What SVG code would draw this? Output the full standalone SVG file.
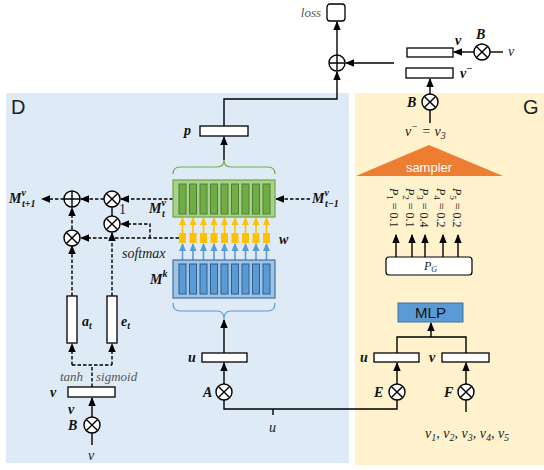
<svg xmlns="http://www.w3.org/2000/svg" width="544" height="470" viewBox="0 0 544 470">
<style>
.ln{fill:none;stroke:#000;stroke-width:1.4}
.ds{fill:none;stroke:#000;stroke-width:1.4;stroke-dasharray:3.5,2}
.box{fill:#fff;stroke:#000;stroke-width:1.3}
.op{fill:#fff;stroke:#000;stroke-width:1.4}
.mb{font-family:"Liberation Serif",serif;font-style:italic;font-weight:bold;font-size:14px;fill:#111}
.mi{font-family:"Liberation Serif",serif;font-style:italic;font-size:14px;fill:#222}
.gi{font-family:"Liberation Serif",serif;font-style:italic;font-size:13px;fill:#555}
.big{font-family:"Liberation Sans",sans-serif;font-size:20px;fill:#222}
.gb{fill:#70ad47;stroke:#4e7f30;stroke-width:1}
.bb{fill:#5b9bd5;stroke:#2e5f8e;stroke-width:1}
.ya{fill:none;stroke:#ffc000;stroke-width:1.6}
.ba{fill:none;stroke:#5b9bd5;stroke-width:1.6}
.sq{fill:#ffc000}
</style>
<defs>
<marker id="ah" markerWidth="9" markerHeight="9" refX="8" refY="4.5" orient="auto" markerUnits="userSpaceOnUse"><path d="M0,0.8 L9,4.5 L0,8.2 Z" fill="#000"/></marker>
<marker id="ay" markerWidth="8" markerHeight="8" refX="7" refY="4" orient="auto" markerUnits="userSpaceOnUse"><path d="M0,0.5 L8,4 L0,7.5 Z" fill="#ffc000"/></marker>
<marker id="ab" markerWidth="8" markerHeight="8" refX="7" refY="4" orient="auto" markerUnits="userSpaceOnUse"><path d="M0,0.5 L8,4 L0,7.5 Z" fill="#5b9bd5"/></marker>
<symbol id="otimes" viewBox="-9 -9 18 18" width="18" height="18" overflow="visible"><circle r="8" class="op"/><path d="M-5.6,-5.6 L5.6,5.6 M5.6,-5.6 L-5.6,5.6" stroke="#000" stroke-width="1.4"/></symbol>
<symbol id="oplus" viewBox="-9 -9 18 18" width="18" height="18" overflow="visible"><circle r="8" class="op"/><path d="M-8,0 L8,0 M0,-8 L0,8" stroke="#000" stroke-width="1.4"/></symbol>
</defs>

<!-- panels -->
<rect id="panelD" x="6" y="93" width="343" height="370" fill="#deebf7"/>
<rect id="panelG" x="355" y="93" width="189" height="372" fill="#fff2cc"/>
<text class="big" x="11" y="114">D</text>
<text class="big" x="523" y="114">G</text>

<g id="connectors">
<path class="ln" d="M224,126 V99 H337 V72" marker-end="url(#ah)"/>
<path class="ln" d="M337,55 V22" marker-end="url(#ah)"/>
<path class="ln" d="M394,63 H346" marker-end="url(#ah)"/>
<path class="ln" d="M474,52 H454" marker-end="url(#ah)"/>
<path class="ln" d="M490,52 H503"/>
<path class="ln" d="M430,94 V79" marker-end="url(#ah)"/>
<path class="ln" d="M430,110 V123"/>
<path class="ln" d="M224,160 V137" marker-end="url(#ah)"/>
<path class="ln" d="M224,353 V320" marker-end="url(#ah)"/>
<path class="ln" d="M224,384 V363" marker-end="url(#ah)"/>
<path class="ln" d="M224,400 V409 H397 V400"/>
<path class="ln" d="M273,409 V415"/>
<path class="ln" d="M397,384 V363" marker-end="url(#ah)"/>
<path class="ln" d="M466,384 V363" marker-end="url(#ah)"/>
<path class="ln" d="M466,400 V412"/>
<path class="ln" d="M397,353 V337 H466 V353"/>
<path class="ln" d="M431,337 V323" marker-end="url(#ah)"/>
<path class="ln" d="M396,257 V235" marker-end="url(#ah)"/>
<path class="ln" d="M412,257 V235" marker-end="url(#ah)"/>
<path class="ln" d="M425,257 V235" marker-end="url(#ah)"/>
<path class="ln" d="M443,257 V235" marker-end="url(#ah)"/>
<path class="ln" d="M458,257 V235" marker-end="url(#ah)"/>
<path class="ln" d="M92,417 V398" marker-end="url(#ah)"/>
<path class="ln" d="M92,433 V445"/>
<path class="ln" d="M112,207 V216"/>
<path class="ds" d="M173,199 H121" marker-end="url(#ah)"/>
<path class="ds" d="M104,199 H81" marker-end="url(#ah)"/>
<path class="ds" d="M64,199 H42" marker-end="url(#ah)"/>
<path class="ds" d="M310,199 H276" marker-end="url(#ah)"/>
<path class="ds" d="M179,238 H81" marker-end="url(#ah)"/>
<path class="ds" d="M150,238 V224 H121" marker-end="url(#ah)"/>
<path class="ds" d="M72,229 V208" marker-end="url(#ah)"/>
<path class="ds" d="M72,296 V246" marker-end="url(#ah)"/>
<path class="ds" d="M112,296 V233" marker-end="url(#ah)"/>
<path class="ds" d="M92,387 V365 M72,365 H112"/>
<path class="ds" d="M72,365 V344" marker-end="url(#ah)"/>
<path class="ds" d="M112,365 V344" marker-end="url(#ah)"/>
<!-- yellow arrows w -> M_t^v -->
<g>
<path class="ya" d="M182.5,233 V218" marker-end="url(#ay)"/>
<path class="ya" d="M193,233 V218" marker-end="url(#ay)"/>
<path class="ya" d="M203.5,233 V218" marker-end="url(#ay)"/>
<path class="ya" d="M214,233 V218" marker-end="url(#ay)"/>
<path class="ya" d="M224.5,233 V218" marker-end="url(#ay)"/>
<path class="ya" d="M235,233 V218" marker-end="url(#ay)"/>
<path class="ya" d="M245.5,233 V218" marker-end="url(#ay)"/>
<path class="ya" d="M256,233 V218" marker-end="url(#ay)"/>
<path class="ya" d="M266.5,233 V218" marker-end="url(#ay)"/>
</g>
<!-- blue arrows M^k -> w -->
<g>
<path class="ba" d="M182.5,260 V244" marker-end="url(#ab)"/>
<path class="ba" d="M193,260 V244" marker-end="url(#ab)"/>
<path class="ba" d="M203.5,260 V244" marker-end="url(#ab)"/>
<path class="ba" d="M214,260 V244" marker-end="url(#ab)"/>
<path class="ba" d="M224.5,260 V244" marker-end="url(#ab)"/>
<path class="ba" d="M235,260 V244" marker-end="url(#ab)"/>
<path class="ba" d="M245.5,260 V244" marker-end="url(#ab)"/>
<path class="ba" d="M256,260 V244" marker-end="url(#ab)"/>
<path class="ba" d="M266.5,260 V244" marker-end="url(#ab)"/>
</g>
</g>

<g id="loss">
<rect x="327" y="4" width="18" height="17" rx="3" fill="#fff" stroke="#000" stroke-width="1.3"/>
<text class="gi" x="321" y="17" text-anchor="end" font-size="14">loss</text>
</g>
<g id="sum-top"><use href="#oplus" x="328" y="54"/></g>

<g id="v-pos">
<rect class="box" x="407" y="48" width="46" height="9"/>
<text class="mb" x="455" y="45">v</text>
</g>
<g id="B-top"><use href="#otimes" x="473" y="43"/><text class="mb" x="476" y="39">B</text><text class="mi" x="508" y="56">v</text></g>
<g id="v-neg">
<rect class="box" x="406" y="68" width="47" height="10"/>
<text class="mb" x="460" y="78">v<tspan font-size="10" dy="-6">−</tspan></text>
</g>
<g id="B-neg"><use href="#otimes" x="421" y="93"/><text class="mb" x="407" y="107">B</text>
<text class="mi" x="405" y="136">v<tspan font-size="10" dy="-6">−</tspan><tspan dy="6"> = v</tspan><tspan font-size="10" dy="3">3</tspan></text></g>

<!-- G panel -->
<g id="sampler">
<path d="M356,176 L429,145 L503,176 Z" fill="#ed7d31"/>
<text x="429" y="172" text-anchor="middle" font-family="Liberation Sans,sans-serif" font-size="13" fill="#fff">sampler</text>
</g>
<g id="probs" font-family="Liberation Serif,serif" font-size="12" fill="#222">
<text transform="translate(390,188) rotate(90)"><tspan font-style="italic">P</tspan><tspan font-size="9" dy="3">1</tspan><tspan dy="-3"> = 0.1</tspan></text>
<text transform="translate(406,188) rotate(90)"><tspan font-style="italic">P</tspan><tspan font-size="9" dy="3">2</tspan><tspan dy="-3"> = 0.1</tspan></text>
<text transform="translate(420,188) rotate(90)"><tspan font-style="italic">P</tspan><tspan font-size="9" dy="3">3</tspan><tspan dy="-3"> = 0.4</tspan></text>
<text transform="translate(437,188) rotate(90)"><tspan font-style="italic">P</tspan><tspan font-size="9" dy="3">4</tspan><tspan dy="-3"> = 0.2</tspan></text>
<text transform="translate(453,188) rotate(90)"><tspan font-style="italic">P</tspan><tspan font-size="9" dy="3">5</tspan><tspan dy="-3"> = 0.2</tspan></text>
</g>
<g id="PG">
<rect x="386" y="257" width="86" height="18" rx="3" fill="#fff" stroke="#000" stroke-width="1.2"/>
<text x="424" y="270" font-family="Liberation Serif,serif" font-style="italic" font-size="12" fill="#222">P<tspan font-size="8" dy="2">G</tspan></text>
</g>
<g id="MLP">
<rect x="398" y="303" width="65" height="19" fill="#5b9bd5" stroke="#41719c" stroke-width="1"/>
<text x="430.5" y="318" text-anchor="middle" font-family="Liberation Sans,sans-serif" font-size="15" fill="#111">MLP</text>
</g>
<g id="u-G"><rect class="box" x="374" y="353" width="45" height="9"/><text class="mb" x="360" y="362">u</text></g>
<g id="v-G"><rect class="box" x="442" y="353" width="47" height="9"/><text class="mb" x="429" y="362">v</text></g>
<g id="E"><use href="#otimes" x="388" y="383"/><text class="mb" x="374" y="397">E</text></g>
<g id="F"><use href="#otimes" x="457" y="383"/><text class="mb" x="444" y="397">F</text></g>
<text class="mi" x="425" y="438">v<tspan font-size="10" dy="3">1</tspan><tspan dy="-3">, v</tspan><tspan font-size="10" dy="3">2</tspan><tspan dy="-3">, v</tspan><tspan font-size="10" dy="3">3</tspan><tspan dy="-3">, v</tspan><tspan font-size="10" dy="3">4</tspan><tspan dy="-3">, v</tspan><tspan font-size="10" dy="3">5</tspan></text>

<!-- D panel -->
<g id="p"><rect class="box" x="200" y="126" width="48" height="10"/><text class="mb" x="184" y="135">p</text></g>
<path d="M173,174 Q173,167 180,167 L217,167 Q224,167 224,160 Q224,167 231,167 L268,167 Q275,167 275,174" fill="none" stroke="#70ad47" stroke-width="1.2"/>
<g id="Mtv">
<rect x="173" y="180" width="102" height="37" fill="#a9d18e" stroke="#70ad47" stroke-width="1.3"/>
<rect class="gb" x="179" y="184" width="7" height="30"/>
<rect class="gb" x="189.5" y="184" width="7" height="30"/>
<rect class="gb" x="200" y="184" width="7" height="30"/>
<rect class="gb" x="210.5" y="184" width="7" height="30"/>
<rect class="gb" x="221" y="184" width="7" height="30"/>
<rect class="gb" x="231.5" y="184" width="7" height="30"/>
<rect class="gb" x="242" y="184" width="7" height="30"/>
<rect class="gb" x="252.5" y="184" width="7" height="30"/>
<rect class="gb" x="263" y="184" width="7" height="30"/>
<text class="mb" x="149" y="213">M<tspan font-size="10" dy="-7">v</tspan><tspan font-size="10" x="162" dy="11">t</tspan></text>
</g>
<text class="mb" x="312" y="203">M<tspan font-size="10" dy="-7">v</tspan><tspan font-size="10" x="325" dy="11">t−1</tspan></text>
<g id="w">
<rect class="sq" x="179" y="233" width="7" height="10"/>
<rect class="sq" x="189.5" y="233" width="7" height="10"/>
<rect class="sq" x="200" y="233" width="7" height="10"/>
<rect class="sq" x="210.5" y="233" width="7" height="10"/>
<rect class="sq" x="221" y="233" width="7" height="10"/>
<rect class="sq" x="231.5" y="233" width="7" height="10"/>
<rect class="sq" x="242" y="233" width="7" height="10"/>
<rect class="sq" x="252.5" y="233" width="7" height="10"/>
<rect class="sq" x="263" y="233" width="7" height="10"/>
<text class="mb" x="279" y="244">w</text>
</g>
<text class="mi" x="122" y="258" font-size="15" fill="#333">softmax</text>
<g id="Mk">
<rect x="173" y="260" width="102" height="38" fill="#9dc3e6" stroke="#41719c" stroke-width="1.2"/>
<rect class="bb" x="179" y="264" width="7" height="30"/>
<rect class="bb" x="189.5" y="264" width="7" height="30"/>
<rect class="bb" x="200" y="264" width="7" height="30"/>
<rect class="bb" x="210.5" y="264" width="7" height="30"/>
<rect class="bb" x="221" y="264" width="7" height="30"/>
<rect class="bb" x="231.5" y="264" width="7" height="30"/>
<rect class="bb" x="242" y="264" width="7" height="30"/>
<rect class="bb" x="252.5" y="264" width="7" height="30"/>
<rect class="bb" x="263" y="264" width="7" height="30"/>
<text class="mb" x="150" y="284">M<tspan font-size="10" dy="-7">k</tspan></text>
</g>
<path d="M173,303 Q173,311 180,311 L217,311 Q224,311 224,319 Q224,311 231,311 L268,311 Q275,311 275,303" fill="none" stroke="#5b9bd5" stroke-width="1.2"/>
<g id="u-D"><rect class="box" x="202" y="353" width="45" height="9"/><text class="mb" x="188" y="362">u</text></g>
<g id="A"><use href="#otimes" x="215" y="383"/><text class="mb" x="203" y="397">A</text></g>
<text class="mi" x="269" y="432">u</text>

<g id="sum-mem"><use href="#oplus" x="63" y="190"/></g>
<g id="mul-1"><use href="#otimes" x="103" y="190"/><text x="119" y="214" font-family="Liberation Serif,serif" font-size="14" fill="#222">1</text></g>
<g id="mul-2"><use href="#otimes" x="103" y="215"/></g>
<g id="mul-3"><use href="#otimes" x="63" y="229"/></g>
<text class="mb" x="9" y="203">M<tspan font-size="10" dy="-7">v</tspan><tspan font-size="10" x="22" dy="11">t+1</tspan></text>
<g id="at"><rect class="box" x="67" y="296" width="10" height="47"/><text class="mb" x="82" y="326">a<tspan font-size="10" dy="3">t</tspan></text></g>
<g id="et"><rect class="box" x="107" y="296" width="10" height="47"/><text class="mb" x="121" y="326">e<tspan font-size="10" dy="3">t</tspan></text></g>
<text class="gi" x="60" y="381">tanh</text>
<text class="gi" x="96" y="381">sigmoid</text>
<g id="v-D"><rect class="box" x="68" y="387" width="47" height="10"/><text class="mb" x="50" y="397">v</text><text class="mb" x="68" y="414">v</text></g>
<g id="B-D"><use href="#otimes" x="83" y="416"/><text class="mb" x="68" y="430">B</text></g>
<text class="mi" x="88" y="460">v</text>
</svg>
